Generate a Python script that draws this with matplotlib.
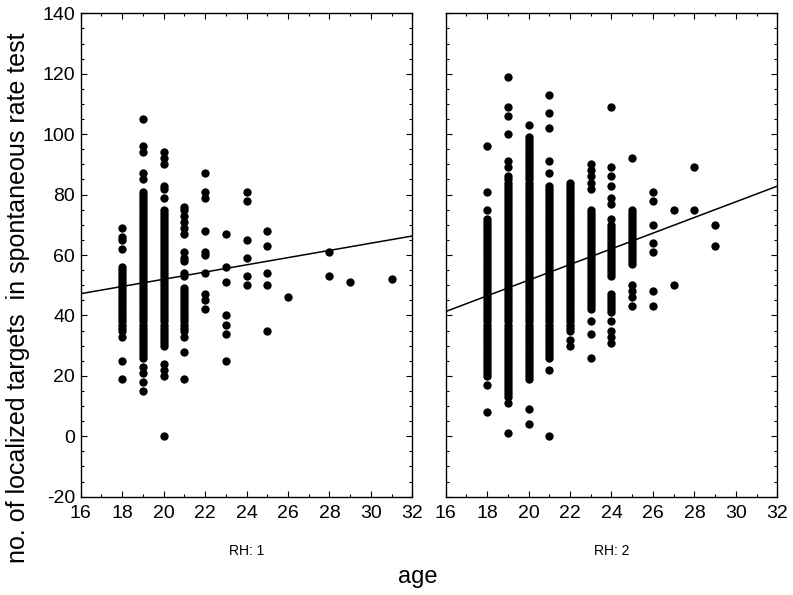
import matplotlib.pyplot as plt
import numpy as np
from matplotlib.ticker import MultipleLocator

plt.rcParams.update({
    "font.family": ["Liberation Sans", "DejaVu Sans"],
    "font.size": 14,
    "axes.unicode_minus": False,
})

# ----------------------------- data ------------------------------------
# scores read column by column; solid strips are listed value by value

rh1_ages = [18, 19, 20, 21, 22, 23, 24, 25, 26, 28, 29, 31]
rh1_scores = [
    [19, 25, 33, 35, 36, 37, 38, 39, 40, 41, 42, 43, 44, 45, 46, 47, 48, 49,
     50, 51, 52, 53, 54, 55, 56, 62, 65, 66, 69],
    [15, 18, 21, 23, 26, 27, 28, 29, 30, 31, 32, 33, 34, 35, 36, 37, 38, 39,
     40, 41, 42, 43, 44, 45, 46, 47, 48, 49, 50, 51, 52, 53, 54, 55, 56, 57,
     58, 59, 60, 61, 62, 63, 64, 65, 66, 67, 68, 69, 70, 71, 72, 73, 74, 75,
     76, 77, 78, 79, 80, 81, 85, 87, 94, 96, 105],
    [0, 20, 22, 24, 30, 31, 32, 33, 34, 35, 36, 37, 38, 39, 40, 41, 42, 43,
     44, 45, 46, 47, 48, 49, 50, 51, 52, 53, 54, 55, 56, 57, 58, 59, 60, 61,
     62, 63, 64, 65, 66, 67, 68, 69, 70, 71, 72, 73, 74, 75, 79, 82, 83, 90,
     92, 94],
    [19, 28, 33, 35, 36, 37, 38, 39, 40, 41, 42, 43, 44, 45, 46, 47, 48, 49,
     53, 54, 58, 59, 61, 67, 69, 71, 73, 75, 76],
    [42, 45, 47, 54, 60, 61, 68, 79, 81, 87],
    [25, 34, 37, 40, 51, 56, 67],
    [50, 53, 59, 65, 78, 81],
    [35, 50, 54, 63, 68],
    [46],
    [53, 61],
    [51],
    [52],
]

rh2_ages = [18, 19, 20, 21, 22, 23, 24, 25, 26, 27, 28, 29]
rh2_scores = [
    [8, 17, 20, 21, 22, 23, 24, 25, 26, 27, 28, 29, 30, 31, 32, 33, 34, 35,
     36, 37, 38, 39, 40, 41, 42, 43, 44, 45, 46, 47, 48, 49, 50, 51, 52, 53,
     54, 55, 56, 57, 58, 59, 60, 61, 62, 63, 64, 65, 66, 67, 68, 69, 70, 71,
     72, 75, 81, 96],
    [1, 11, 13, 14, 15, 16, 17, 18, 19, 20, 21, 22, 23, 24, 25, 26, 27, 28,
     29, 30, 31, 32, 33, 34, 35, 36, 37, 38, 39, 40, 41, 42, 43, 44, 45, 46,
     47, 48, 49, 50, 51, 52, 53, 54, 55, 56, 57, 58, 59, 60, 61, 62, 63, 64,
     65, 66, 67, 68, 69, 70, 71, 72, 73, 74, 75, 76, 77, 78, 79, 80, 81, 82,
     83, 84, 85, 86, 89, 91, 100, 106, 109, 119],
    [4, 9, 19, 20, 21, 22, 23, 24, 25, 26, 27, 28, 29, 30, 31, 32, 33, 34,
     35, 36, 37, 38, 39, 40, 41, 42, 43, 44, 45, 46, 47, 48, 49, 50, 51, 52,
     53, 54, 55, 56, 57, 58, 59, 60, 61, 62, 63, 64, 65, 66, 67, 68, 69, 70,
     71, 72, 73, 74, 75, 76, 77, 78, 79, 80, 81, 82, 83, 84, 85, 86, 87, 88,
     89, 90, 91, 92, 93, 94, 95, 96, 97, 98, 99, 103],
    [0, 22, 26, 27, 28, 29, 30, 31, 32, 33, 34, 35, 36, 37, 38, 39, 40, 41,
     42, 43, 44, 45, 46, 47, 48, 49, 50, 51, 52, 53, 54, 55, 56, 57, 58, 59,
     60, 61, 62, 63, 64, 65, 66, 67, 68, 69, 70, 71, 72, 73, 74, 75, 76, 77,
     78, 79, 80, 81, 82, 83, 87, 91, 102, 107, 113],
    [30, 32, 35, 36, 37, 38, 39, 40, 41, 42, 43, 44, 45, 46, 47, 48, 49, 50,
     51, 52, 53, 54, 55, 56, 57, 58, 59, 60, 61, 62, 63, 64, 65, 66, 67, 68,
     69, 70, 71, 72, 73, 74, 75, 76, 77, 78, 79, 80, 81, 82, 83, 84],
    [26, 34, 38, 42, 43, 44, 45, 46, 47, 48, 49, 50, 51, 52, 53, 54, 55, 56,
     57, 58, 59, 60, 61, 62, 63, 64, 65, 66, 67, 68, 69, 70, 71, 72, 73, 74,
     75, 82, 84, 86, 88, 90],
    [31, 33, 35, 38, 41, 42, 43, 44, 45, 46, 47, 53, 54, 55, 56, 57, 58, 59,
     60, 61, 62, 63, 64, 65, 66, 67, 68, 69, 70, 72, 77, 79, 83, 86, 89, 109],
    [43, 46, 48, 50, 57, 58, 59, 60, 61, 62, 63, 64, 65, 66, 67, 68, 69, 70,
     71, 72, 73, 74, 75, 92],
    [43, 48, 61, 64, 70, 78, 81],
    [50, 75],
    [75, 89],
    [63, 70],
]

# fitted line ends (value at age 16 and at age 32)
fit_x = [16, 32]
rh1_fit = [47.2, 66.3]
rh2_fit = [41.3, 82.8]

panels = [("RH: 1", rh1_ages, rh1_scores, rh1_fit),
          ("RH: 2", rh2_ages, rh2_scores, rh2_fit)]

# ----------------------------- figure ----------------------------------

fig = plt.figure(figsize=(7.93, 5.95), dpi=100)
ax_left = fig.add_axes([0.1018, 0.1652, 0.4182, 0.8124])
ax_right = fig.add_axes([0.5620, 0.1652, 0.4182, 0.8124])

for ax, (name, ages, scores, fit) in zip((ax_left, ax_right), panels):
    xs = np.concatenate([[a] * len(s) for a, s in zip(ages, scores)])
    ys = np.concatenate(scores)
    ax.scatter(xs, ys, s=36, color="black", linewidths=0, zorder=3)
    ax.plot(fit_x, fit, color="black", lw=1.1, zorder=4)

    ax.set_xlim(16, 32)
    ax.set_ylim(-20, 140)
    ax.xaxis.set_major_locator(MultipleLocator(2))
    ax.xaxis.set_minor_locator(MultipleLocator(1))
    ax.yaxis.set_major_locator(MultipleLocator(20))
    ax.yaxis.set_minor_locator(MultipleLocator(5))
    ax.tick_params(which="both", direction="in", top=True, right=True,
                   width=0.8)
    ax.tick_params(which="major", length=4)
    ax.tick_params(which="minor", length=2.5)
    ax.tick_params(axis="x", pad=6)
    ax.tick_params(axis="y", pad=4)
    for sp in ax.spines.values():
        sp.set_linewidth(1.0)
    ax.set_xlabel(name, fontsize=10, labelpad=16)

ax_right.tick_params(labelleft=False)

# axis titles sit relative to the whole figure, as in the original
fig.text(0.023, 0.5, "no. of localized targets  in spontaneous rate test",
         rotation=90, ha="center", va="center", fontsize=18)
fig.text(0.527, 0.03, "age", ha="center", va="center", fontsize=17)

fig.savefig("out.png", dpi=100)
